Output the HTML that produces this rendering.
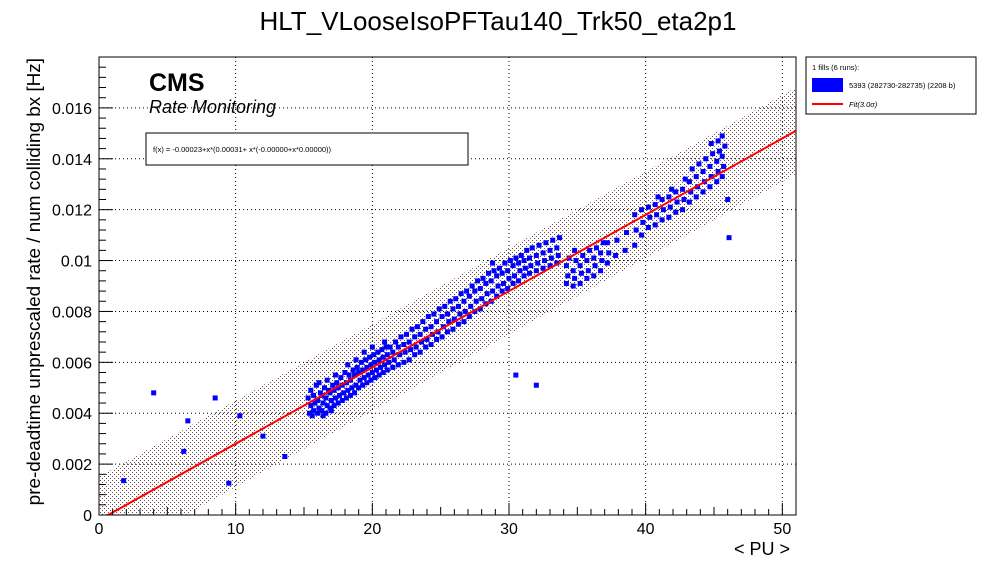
<!DOCTYPE html>
<html><head><meta charset="utf-8"><style>
body{margin:0;background:#fff;}
svg{display:block;font-family:"Liberation Sans",sans-serif;}
</style></head><body>
<svg id="chart" width="996" height="572">
<defs>
<pattern id="dots" width="4" height="4" patternUnits="userSpaceOnUse">
<rect x="0" y="0" width="1" height="1" fill="#6a4a4a"/><rect x="2" y="2" width="1" height="1" fill="#6a4a4a"/>
</pattern>
<clipPath id="plotclip"><rect x="99" y="57" width="697" height="458"/></clipPath>
</defs>
<text x="498" y="30" font-size="26" text-anchor="middle">HLT_VLooseIsoPFTau140_Trk50_eta2p1</text>
<rect x="99" y="57" width="697" height="458" fill="#fff" stroke="#000" stroke-width="1"/>
<g id="grid"></g>
<g id="band" clip-path="url(#plotclip)"></g>
<g id="pts" clip-path="url(#plotclip)"></g>
<g id="fit" clip-path="url(#plotclip)"></g>
<g id="axes"></g>
<text x="790" y="555" font-size="18" text-anchor="end">&lt; PU &gt;</text>
<text transform="translate(40,58) rotate(-90)" font-size="18.9" text-anchor="end">pre-deadtime unprescaled rate / num colliding bx [Hz]</text>
<text x="149" y="91" font-size="25" font-weight="bold">CMS</text>
<text x="149" y="113" font-size="18" font-style="italic">Rate Monitoring</text>
<g>
<rect x="146" y="133" width="322" height="32" fill="#fff" stroke="#000"/>
<text x="153" y="152" font-size="7.5">f(x) = -0.00023+x*(0.00031+ x*(-0.00000+x*0.00000))</text>
</g>
<g>
<rect x="806" y="57" width="170" height="57" fill="#fff" stroke="#000"/>
<text x="812" y="70" font-size="7.5">1 fills (6 runs):</text>
<rect x="812" y="78" width="31" height="14" fill="#0000ff"/>
<text x="849" y="88" font-size="7.5">5393 (282730-282735) (2208 b)</text>
<line x1="812" y1="104" x2="843" y2="104" stroke="#ff0000" stroke-width="2"/>
<text x="849" y="107" font-size="7.5" font-style="italic">Fit(3.0σ)</text>
</g>
</svg>
<script>
const xTicks=[0,10,20,30,40,50];
const yTicks=[0,0.002,0.004,0.006,0.008,0.01,0.012,0.014,0.016];
const yTickLabels=["0","0.002","0.004","0.006","0.008","0.01","0.012","0.014","0.016"];
const fitParams=[-0.0002,0.000300];
const bandHalfWidth=[0.0017];
const outliers=[[1.8,0.00135],[4.0,0.0048],[6.2,0.0025],[6.5,0.0037],[8.5,0.0046],[9.5,0.00125],[10.3,0.0039],[12.0,0.0031],[13.6,0.0023],[30.5,0.0055],[32.0,0.0051],[46.1,0.0109],[46.0,0.0124],[45.6,0.0149]];
const clusterLow=[[15.4,0.0040],[15.5,0.0043],[15.3,0.0046],[15.5,0.0049],[15.7,0.0041],[15.8,0.0044],[15.7,0.0047],[15.9,0.0051],[16.0,0.0040],[16.1,0.0042],[16.0,0.0045],[16.2,0.0048],[16.1,0.0052],[16.3,0.0041],[16.4,0.0044],[16.3,0.0047],[16.5,0.0050],[16.6,0.0040],[16.7,0.0043],[16.6,0.0046],[16.8,0.0049],[16.7,0.0053],[16.9,0.0042],[17.0,0.0045],[16.9,0.0048],[17.1,0.0051],[17.2,0.0043],[17.3,0.0046],[17.2,0.0049],[17.4,0.0052],[17.3,0.0055],[17.5,0.0044],[17.6,0.0047],[17.5,0.0050],[17.7,0.0054],[15.6,0.0039],[16.4,0.0039],[17.0,0.0041]];
const clusterMid1=[[17.8,0.0045],[17.9,0.0048],[17.8,0.0051],[18.0,0.0056],[18.1,0.0046],[18.2,0.0049],[18.1,0.0052],[18.3,0.0055],[18.2,0.0059],[18.4,0.0047],[18.5,0.0050],[18.4,0.0053],[18.6,0.0057],[18.7,0.0048],[18.8,0.0051],[18.7,0.0055],[18.9,0.0058],[18.8,0.0061],[19.0,0.0050],[19.1,0.0053],[19.0,0.0056],[19.2,0.0060],[19.3,0.0051],[19.4,0.0054],[19.3,0.0057],[19.5,0.0061],[19.4,0.0064],[19.6,0.0052],[19.7,0.0055],[19.6,0.0058],[19.8,0.0062],[19.9,0.0053],[20.0,0.0056],[19.9,0.0059],[20.1,0.0063],[20.0,0.0066],[20.2,0.0054],[20.3,0.0057],[20.2,0.0060],[20.4,0.0064],[20.5,0.0055],[20.6,0.0058],[20.5,0.0061],[20.7,0.0065],[20.8,0.0056],[20.9,0.0059],[20.8,0.0062],[21.0,0.0066],[20.9,0.0068],[21.1,0.0057],[21.2,0.0060],[21.1,0.0063],[21.3,0.0066],[21.5,0.0058],[21.6,0.0061],[21.5,0.0064],[21.7,0.0068],[21.9,0.0059],[22.0,0.0063],[21.9,0.0066],[22.1,0.0070]];
const clusterMid2=[[22.3,0.0060],[22.4,0.0064],[22.3,0.0067],[22.5,0.0071],[22.7,0.0061],[22.8,0.0065],[22.7,0.0068],[22.9,0.0073],[23.1,0.0063],[23.2,0.0066],[23.1,0.0070],[23.3,0.0074],[23.5,0.0064],[23.6,0.0068],[23.5,0.0071],[23.7,0.0076],[23.9,0.0066],[24.0,0.0069],[23.9,0.0073],[24.1,0.0078],[24.3,0.0067],[24.4,0.0071],[24.3,0.0074],[24.5,0.0079],[24.7,0.0069],[24.8,0.0072],[24.7,0.0076],[24.9,0.0081],[25.1,0.0070],[25.2,0.0074],[25.1,0.0078],[25.3,0.0082],[25.5,0.0072],[25.6,0.0076],[25.5,0.0079],[25.7,0.0084],[25.9,0.0073],[26.0,0.0077],[25.9,0.0081],[26.1,0.0085],[26.3,0.0075],[26.4,0.0079],[26.3,0.0082],[26.5,0.0087],[26.7,0.0076],[26.8,0.0080],[26.7,0.0084],[26.9,0.0088]];
const clusterHigh1=[[27.1,0.0078],[27.2,0.0082],[27.1,0.0086],[27.3,0.0090],[27.5,0.0080],[27.6,0.0084],[27.5,0.0088],[27.7,0.0092],[27.9,0.0081],[28.0,0.0085],[27.9,0.0089],[28.1,0.0093],[28.3,0.0083],[28.4,0.0087],[28.3,0.0091],[28.5,0.0095],[28.7,0.0084],[28.8,0.0088],[28.7,0.0092],[28.9,0.0096],[28.8,0.0099],[29.1,0.0086],[29.2,0.0090],[29.1,0.0094],[29.3,0.0097],[29.5,0.0088],[29.6,0.0091],[29.5,0.0095],[29.7,0.0099],[29.9,0.0089],[30.0,0.0093],[29.9,0.0096],[30.1,0.0100],[30.3,0.0091],[30.4,0.0094],[30.3,0.0098],[30.5,0.0101],[30.7,0.0092],[30.8,0.0096],[30.7,0.0099],[30.9,0.0102],[31.1,0.0094],[31.2,0.0097],[31.1,0.0100],[31.3,0.0104],[31.5,0.0095],[31.6,0.0098],[31.5,0.0101],[31.7,0.0105],[32.0,0.0096],[32.1,0.0099],[32.0,0.0102],[32.2,0.0106],[32.5,0.0097],[32.6,0.0100],[32.5,0.0103],[32.7,0.0107],[33.0,0.0098],[33.1,0.0101],[33.0,0.0104],[33.2,0.0108],[33.5,0.0099],[33.6,0.0102],[33.5,0.0105],[33.7,0.0109]];
const clusterHigh2=[[34.2,0.0091],[34.3,0.0094],[34.2,0.0098],[34.4,0.0101],[34.7,0.0090],[34.8,0.0093],[34.7,0.0096],[34.9,0.0100],[34.8,0.0104],[35.2,0.0091],[35.3,0.0095],[35.2,0.0098],[35.4,0.0102],[35.7,0.0093],[35.8,0.0096],[35.7,0.0100],[35.9,0.0104],[36.2,0.0094],[36.3,0.0098],[36.2,0.0101],[36.4,0.0105],[36.7,0.0096],[36.8,0.0100],[36.7,0.0103],[36.9,0.0107],[37.2,0.0099],[37.3,0.0103],[37.2,0.0107],[37.8,0.0102],[37.9,0.0108],[38.5,0.0104],[38.6,0.0111],[39.2,0.0106],[39.3,0.0112],[39.2,0.0118],[39.7,0.0110],[39.8,0.0115],[39.7,0.0120]];
const clusterTop=[[40.2,0.0113],[40.3,0.0117],[40.2,0.0121],[40.7,0.0114],[40.8,0.0118],[40.7,0.0122],[40.9,0.0125],[41.2,0.0116],[41.3,0.0120],[41.2,0.0124],[41.7,0.0117],[41.8,0.0121],[41.7,0.0125],[41.9,0.0128],[42.2,0.0119],[42.3,0.0123],[42.2,0.0127],[42.7,0.0120],[42.8,0.0124],[42.7,0.0128],[42.9,0.0132],[43.2,0.0123],[43.3,0.0127],[43.2,0.0131],[43.4,0.0136],[43.7,0.0125],[43.8,0.0129],[43.7,0.0133],[43.9,0.0138],[44.2,0.0127],[44.3,0.0131],[44.2,0.0135],[44.4,0.0140],[44.7,0.0129],[44.8,0.0133],[44.7,0.0137],[44.9,0.0142],[44.8,0.0146],[45.2,0.0131],[45.3,0.0135],[45.2,0.0139],[45.4,0.0143],[45.3,0.0147],[45.6,0.0133],[45.7,0.0137],[45.6,0.0141],[45.8,0.0145]];

const X0=99,X1=796,Y0=515,Y1=57,XMAX=51,YMAX=0.018;
function sx(v){return X0+(v/XMAX)*(X1-X0);}
function sy(v){return Y0-(v/YMAX)*(Y0-Y1);}
const NS="http://www.w3.org/2000/svg";
function mk(tag,attrs,parent){const e=document.createElementNS(NS,tag);for(const k in attrs)e.setAttribute(k,attrs[k]);parent.appendChild(e);return e;}
const grid=document.getElementById('grid'),axes=document.getElementById('axes');
xTicks.forEach((t,i)=>{
  if(t>0){const g=mk('line',{x1:sx(t),x2:sx(t),y1:Y1,y2:Y0,stroke:'#000','stroke-dasharray':'1,3'},grid);
  
  }
  const l=mk('text',{x:sx(t),y:534,'font-size':16,'text-anchor':'middle'},axes);l.textContent=t;
  
  
});
for(let m=0;m<=XMAX;m++){const len=(m%10===0)?12:(m%5===0?8:6);mk('line',{x1:sx(m),x2:sx(m),y1:Y0,y2:Y0-len,stroke:'#000'},axes);}
yTicks.forEach((t,i)=>{
  if(t>0){const g=mk('line',{x1:X0,x2:X1,y1:sy(t),y2:sy(t),stroke:'#000','stroke-dasharray':'1,3'},grid);
  
  }
  const l=mk('text',{x:92,y:sy(t)+6,'font-size':16,'text-anchor':'end'},axes);l.textContent=yTickLabels[i];
  
  
});
for(let m=0;m<=0.018001;m+=0.0004){const major=Math.abs(m/0.002-Math.round(m/0.002))<1e-6;mk('line',{x1:X0,x2:X0+(major?14:7),y1:sy(m),y2:sy(m),stroke:'#000'},axes);}
function fit(x){return fitParams[0]+fitParams[1]*x;}
const h=bandHalfWidth[0];
const band=mk('polygon',{points:`${sx(0)},${sy(fit(0)+h)} ${sx(XMAX)},${sy(fit(XMAX)+h)} ${sx(XMAX)},${sy(fit(XMAX)-h)} ${sx(0)},${sy(fit(0)-h)}`,fill:'url(#dots)'},document.getElementById('band'));


const fl=mk('line',{x1:sx(0),y1:sy(fit(0)),x2:sx(XMAX),y2:sy(fit(XMAX)),stroke:'#ff0000','stroke-width':2},document.getElementById('fit'));


const pts=document.getElementById('pts');
[outliers,clusterLow,clusterMid1,clusterMid2,clusterHigh1,clusterHigh2,clusterTop].forEach(arr=>arr.forEach(p=>{
  const r=mk('rect',{x:sx(p[0])-2.5,y:sy(p[1])-2.5,width:5,height:5,fill:'#0000ff'},pts);
  
  
}));
</script>
</body></html>
